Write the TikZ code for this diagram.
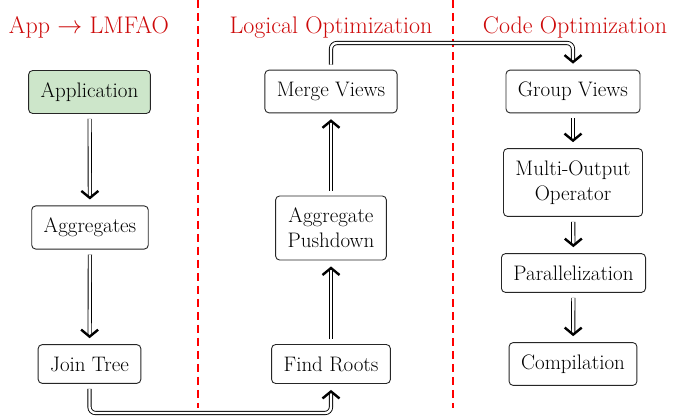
\documentclass[tikz,border=0pt]{standalone}
\usepackage{xcolor}
\usetikzlibrary{arrows.meta, calc}
\definecolor{appgreen}{RGB}{205,230,202}
\definecolor{titlered}{RGB}{205,10,10}
\tikzset{
    stage/.style={rectangle, draw=black!85, line width=0.9pt, rounded corners=4pt, fill=white, align=center, inner xsep=12pt, inner ysep=12pt, font=\fontsize{21}{25}\selectfont},
    phase/.style={font=\fontsize{24}{26}\selectfont, color=titlered, anchor=base},
    flow/.style={double, double distance=2.4pt, line width=0.9pt, -{Straight Barb[length=7pt, width=17pt, line width=2.4pt]}, shorten >=6pt, shorten <=5pt, rounded corners=6pt},
    divider/.style={red, dash pattern=on 8pt off 5pt, line width=1.6pt}
}

\begin{document}
\begin{tikzpicture}[x=1pt, y=-1pt]
        \useasboundingbox (0,0) rectangle (694,419);

        % Phase titles and dividers
        \node[phase] (t1) at (89,34) {App $\rightarrow$ LMFAO};
        \node[phase] (t2) at (331,34) {Logical Optimization};
        \node[phase] (t3) at (575,34) {Code Optimization};
        \draw[divider] (198,0) -- (198,408);
        \draw[divider] (453,0) -- (453,408);

        % App -> LMFAO
        \node[stage, fill=appgreen] (app) at (89.5,92) {Application};
        \node[stage] (agg) at (90,227.5) {Aggregates};
        \node[stage] (jt) at (89.5,364) {Join Tree};

        % Logical optimization
        \node[stage] (fr) at (331,364) {Find Roots};
        \node[stage] (ap) at (331,228) {Aggregate\\Pushdown};
        \node[stage] (mv) at (331,91.5) {Merge Views};

        % Code optimization
        \node[stage] (gv) at (573,91.5) {Group Views};
        \node[stage] (mo) at (573,182.5) {Multi-Output\\Operator};
        \node[stage] (par) at (573.5,273) {Parallelization};
        \node[stage] (comp) at (573,364) {Compilation};

        \coordinate (low) at (0,413);
        \coordinate (high) at (0,43);

        % Connectors
        \draw[flow] (app) -- (agg);
        \draw[flow] (agg) -- (jt);
        \draw[flow] (jt.south) -- (jt.south |- low) -| (fr.south);
        \draw[flow] (fr) -- (ap);
        \draw[flow] (ap) -- (mv);
        \draw[flow] (mv.north) -- (mv.north |- high) -| (gv.north);
        \draw[flow] (gv) -- (mo);
        \draw[flow] (mo) -- (par);
        \draw[flow] (par) -- (comp);
    \end{tikzpicture}
\end{document}
